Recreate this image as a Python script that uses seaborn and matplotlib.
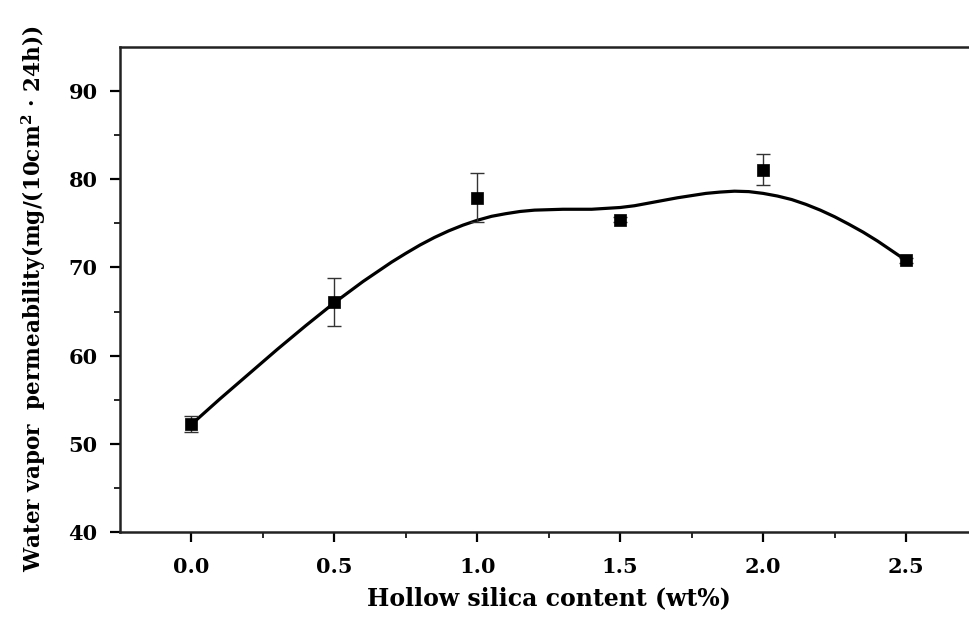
import numpy as np
import pandas as pd
import matplotlib
matplotlib.use("Agg")
import matplotlib.pyplot as plt
import seaborn as sns

# measured points
content = [0.0, 0.5, 1.0, 1.5, 2.0, 2.5]
wvp = [52.2, 66.1, 77.9, 75.4, 81.1, 70.8]
wvp_err = [0.9, 2.7, 2.8, 0.3, 1.8, 0.3]

# smoothed curve
curve_x = [0.0, 0.05, 0.1, 0.15, 0.2, 0.25, 0.3, 0.35, 0.4, 0.45, 0.5, 0.55,
           0.6, 0.65, 0.7, 0.75, 0.8, 0.85, 0.9, 0.95, 1.0, 1.05, 1.1, 1.15,
           1.2, 1.25, 1.3, 1.35, 1.4, 1.45, 1.5, 1.55, 1.6, 1.65, 1.7, 1.75,
           1.8, 1.85, 1.9, 1.95, 2.0, 2.05, 2.1, 2.15, 2.2, 2.25, 2.3, 2.35,
           2.4, 2.45, 2.5]
curve_y = [52.2, 53.65, 55.1, 56.5, 57.9, 59.3, 60.7, 62.05, 63.4, 64.7, 66.0,
           67.2, 68.4, 69.5, 70.6, 71.6, 72.55, 73.4, 74.15, 74.8, 75.35, 75.8,
           76.1, 76.35, 76.5, 76.55, 76.6, 76.6, 76.6, 76.7, 76.8, 77.0, 77.3,
           77.6, 77.9, 78.15, 78.4, 78.55, 78.65, 78.6, 78.4, 78.1, 77.7,
           77.15, 76.5, 75.75, 74.9, 74.0, 73.0, 71.9, 70.8]

x_ticks = [0.0, 0.5, 1.0, 1.5, 2.0, 2.5]
y_ticks = [40, 50, 60, 70, 80, 90]

sns.set_theme(style="ticks")
plt.rcParams['font.family'] = ['DejaVu Serif']
plt.rcParams['font.weight'] = 'bold'
plt.rcParams['text.color'] = 'black'
plt.rcParams['axes.labelcolor'] = 'black'
plt.rcParams['mathtext.fontset'] = 'dejavuserif'
plt.rcParams['mathtext.default'] = 'bf'

df_pts = pd.DataFrame({"x": content, "y": wvp})
df_curve = pd.DataFrame({"x": curve_x, "y": curve_y})

fig = plt.figure(figsize=(9.69, 6.17), dpi=100)
ax = fig.add_axes([0.1238, 0.1378, 0.885, 0.786])

sns.lineplot(data=df_curve, x="x", y="y", ax=ax, color="black", linewidth=2.3)
ax.errorbar(content, wvp, yerr=wvp_err, fmt="none", ecolor="#333333",
            elinewidth=1.0, capsize=5, capthick=1.0, zorder=3)
sns.scatterplot(data=df_pts, x="x", y="y", ax=ax, marker="s", color="black",
                s=70, edgecolor="black", linewidth=0.5, zorder=4)

ax.set_xlim(-0.25, 2.75)
ax.set_ylim(40, 95)
ax.set_xticks(x_ticks)
ax.set_xticklabels([f"{v:.1f}" for v in x_ticks])
ax.set_yticks(y_ticks)
ax.set_xticks([0.25, 0.75, 1.25, 1.75, 2.25], minor=True)
ax.set_yticks([45, 55, 65, 75, 85], minor=True)

ax.tick_params(axis="x", which="major", pad=11)
ax.tick_params(axis="y", which="major", pad=9)
ax.tick_params(axis="both", which="major", direction="out", length=7,
               width=1.6, labelsize=15, colors="black")
ax.tick_params(axis="both", which="minor", direction="out", length=4, width=1.4)
for lbl in ax.get_xticklabels() + ax.get_yticklabels():
    lbl.set_fontweight("bold")

for sp in ax.spines.values():
    sp.set_linewidth(1.8)
    sp.set_color("#222222")

ax.set_xlabel("Hollow silica content (wt%)", fontsize=17, fontweight="bold",
              labelpad=7)
ax.set_ylabel("Water vapor  permeability(mg/(10cm$^{2}$ · 24h))", fontsize=15.5,
              fontweight="bold")
ax.yaxis.set_label_coords(-0.084, 0.48)

fig.savefig("out.png", dpi=100)
